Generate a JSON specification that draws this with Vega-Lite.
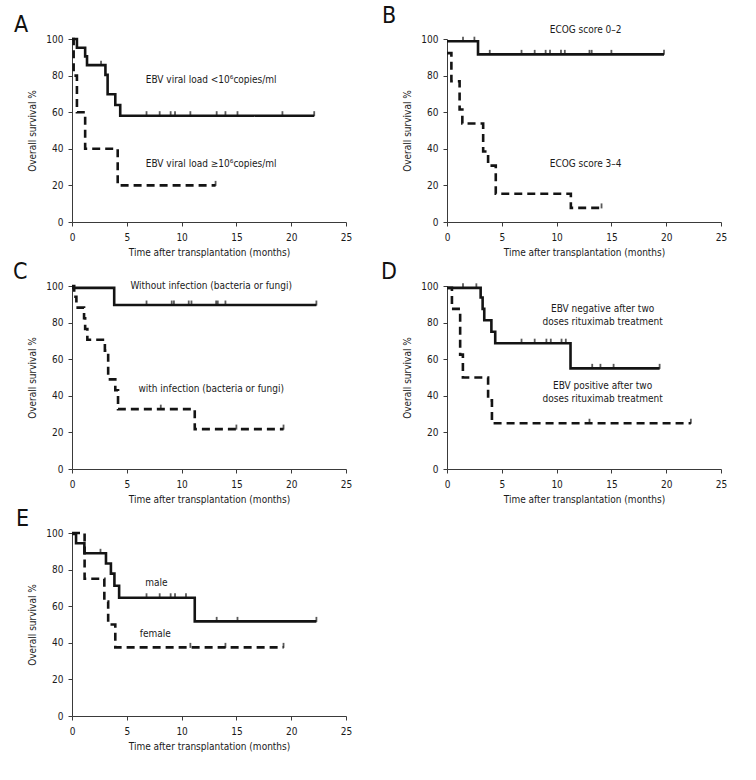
{
  "$schema": "https://vega.github.io/schema/vega-lite/v6.json",
  "padding": {"left": 13, "top": 4, "right": 5, "bottom": 5},
  "bounds": "flush",
  "columns": 2,
  "spacing": {"row": 64, "column": 101},
  "config": {
    "font": "Liberation Sans Narrow, DejaVu Sans Condensed, sans-serif",
    "view": {"stroke": null},
    "axis": {"grid": false, "domainColor": "#3a3a3a", "tickColor": "#3a3a3a", "domainWidth": 1, "tickWidth": 1, "tickSize": 4,
      "labelFont": "Liberation Sans Narrow, DejaVu Sans Condensed, sans-serif", "labelFontSize": 10, "labelColor": "#1a1a1a",
      "titleFont": "Liberation Sans Narrow, DejaVu Sans Condensed, sans-serif", "titleFontSize": 10, "titleFontWeight": "normal", "titleColor": "#1a1a1a"},
    "axisX": {"values": [0, 5, 10, 15, 20, 25], "labelPadding": 6, "titlePadding": 5, "labelFlush": false},
    "axisY": {"values": [0, 20, 40, 60, 80, 100], "labelPadding": 5, "titlePadding": 8},
    "title": {"font": "Liberation Sans Narrow, DejaVu Sans Condensed, sans-serif", "fontSize": 23, "fontWeight": "normal", "anchor": "start", "frame": "group", "color": "#111111", "offset": -3},
    "text": {"font": "Liberation Sans Narrow, DejaVu Sans Condensed, sans-serif", "fontSize": 10, "color": "#1a1a1a", "align": "center", "baseline": "middle"}
  },
  "datasets": {
    "km": [
      {"p": "A", "g": "solid", "t": 0, "s": 100}, {"p": "A", "g": "solid", "t": 0.45, "s": 95.2}, {"p": "A", "g": "solid", "t": 1.2, "s": 90.5}, {"p": "A", "g": "solid", "t": 1.37, "s": 85.7}, {"p": "A", "g": "solid", "t": 3.05, "s": 80.4}, {"p": "A", "g": "solid", "t": 3.25, "s": 69.8}, {"p": "A", "g": "solid", "t": 3.95, "s": 63.9}, {"p": "A", "g": "solid", "t": 4.4, "s": 58.1}, {"p": "A", "g": "solid", "t": 22.1, "s": 58.1},
      {"p": "A", "g": "dashed", "t": 0, "s": 100}, {"p": "A", "g": "dashed", "t": 0.15, "s": 80}, {"p": "A", "g": "dashed", "t": 0.45, "s": 60}, {"p": "A", "g": "dashed", "t": 1.2, "s": 40}, {"p": "A", "g": "dashed", "t": 4.17, "s": 20}, {"p": "A", "g": "dashed", "t": 13.1, "s": 20},
      {"p": "B", "g": "solid", "t": 0, "s": 98.8}, {"p": "B", "g": "solid", "t": 2.83, "s": 91.6}, {"p": "B", "g": "solid", "t": 19.8, "s": 91.6},
      {"p": "B", "g": "dashed", "t": 0, "s": 92.3}, {"p": "B", "g": "dashed", "t": 0.4, "s": 76.9}, {"p": "B", "g": "dashed", "t": 1.15, "s": 61.5}, {"p": "B", "g": "dashed", "t": 1.4, "s": 53.8}, {"p": "B", "g": "dashed", "t": 3.3, "s": 38.5}, {"p": "B", "g": "dashed", "t": 3.75, "s": 30.8}, {"p": "B", "g": "dashed", "t": 4.45, "s": 15.4}, {"p": "B", "g": "dashed", "t": 11.3, "s": 7.7}, {"p": "B", "g": "dashed", "t": 14.1, "s": 7.7},
      {"p": "C", "g": "solid", "t": 0, "s": 99}, {"p": "C", "g": "solid", "t": 3.85, "s": 89.6}, {"p": "C", "g": "solid", "t": 22.3, "s": 89.6},
      {"p": "C", "g": "dashed", "t": 0, "s": 100}, {"p": "C", "g": "dashed", "t": 0.2, "s": 94.1}, {"p": "C", "g": "dashed", "t": 0.4, "s": 88.2}, {"p": "C", "g": "dashed", "t": 1.1, "s": 82.4}, {"p": "C", "g": "dashed", "t": 1.2, "s": 76.5}, {"p": "C", "g": "dashed", "t": 1.4, "s": 70.6}, {"p": "C", "g": "dashed", "t": 3.0, "s": 64.7}, {"p": "C", "g": "dashed", "t": 3.3, "s": 49}, {"p": "C", "g": "dashed", "t": 3.95, "s": 43}, {"p": "C", "g": "dashed", "t": 4.2, "s": 32.7}, {"p": "C", "g": "dashed", "t": 11.2, "s": 21.8}, {"p": "C", "g": "dashed", "t": 19.3, "s": 21.8},
      {"p": "D", "g": "solid", "t": 0, "s": 99}, {"p": "D", "g": "solid", "t": 3.07, "s": 93.75}, {"p": "D", "g": "solid", "t": 3.25, "s": 87.5}, {"p": "D", "g": "solid", "t": 3.4, "s": 81.25}, {"p": "D", "g": "solid", "t": 4.05, "s": 75}, {"p": "D", "g": "solid", "t": 4.4, "s": 68.75}, {"p": "D", "g": "solid", "t": 11.27, "s": 55}, {"p": "D", "g": "solid", "t": 19.4, "s": 55},
      {"p": "D", "g": "dashed", "t": 0, "s": 99}, {"p": "D", "g": "dashed", "t": 0.45, "s": 87.5}, {"p": "D", "g": "dashed", "t": 1.2, "s": 62.5}, {"p": "D", "g": "dashed", "t": 1.45, "s": 50}, {"p": "D", "g": "dashed", "t": 3.75, "s": 37.5}, {"p": "D", "g": "dashed", "t": 4.1, "s": 25}, {"p": "D", "g": "dashed", "t": 22.25, "s": 25},
      {"p": "E", "g": "solid", "t": 0, "s": 99.5}, {"p": "E", "g": "solid", "t": 0.37, "s": 94.4}, {"p": "E", "g": "solid", "t": 1.13, "s": 88.9}, {"p": "E", "g": "solid", "t": 3.1, "s": 83.3}, {"p": "E", "g": "solid", "t": 3.55, "s": 77.8}, {"p": "E", "g": "solid", "t": 3.87, "s": 71.2}, {"p": "E", "g": "solid", "t": 4.3, "s": 64.6}, {"p": "E", "g": "solid", "t": 11.2, "s": 51.7}, {"p": "E", "g": "solid", "t": 22.3, "s": 51.7},
      {"p": "E", "g": "dashed", "t": 0, "s": 100}, {"p": "E", "g": "dashed", "t": 1.15, "s": 75}, {"p": "E", "g": "dashed", "t": 2.95, "s": 62.5}, {"p": "E", "g": "dashed", "t": 3.3, "s": 50}, {"p": "E", "g": "dashed", "t": 3.95, "s": 37.5}, {"p": "E", "g": "dashed", "t": 19.3, "s": 37.5}
    ],
    "cens": [
      {"p": "A", "t": 2.65, "s": 85.7}, {"p": "A", "t": 6.8, "s": 58.1}, {"p": "A", "t": 8.0, "s": 58.1}, {"p": "A", "t": 9.0, "s": 58.1}, {"p": "A", "t": 9.4, "s": 58.1}, {"p": "A", "t": 10.8, "s": 58.1}, {"p": "A", "t": 13.2, "s": 58.1}, {"p": "A", "t": 14.0, "s": 58.1}, {"p": "A", "t": 15.1, "s": 58.1}, {"p": "A", "t": 19.2, "s": 58.1}, {"p": "A", "t": 22.1, "s": 58.1}, {"p": "A", "t": 13.1, "s": 20},
      {"p": "B", "t": 1.46, "s": 98.8}, {"p": "B", "t": 2.5, "s": 98.8}, {"p": "B", "t": 3.9, "s": 91.6}, {"p": "B", "t": 6.8, "s": 91.6}, {"p": "B", "t": 8.0, "s": 91.6}, {"p": "B", "t": 9.0, "s": 91.6}, {"p": "B", "t": 9.4, "s": 91.6}, {"p": "B", "t": 10.4, "s": 91.6}, {"p": "B", "t": 10.75, "s": 91.6}, {"p": "B", "t": 13.0, "s": 91.6}, {"p": "B", "t": 13.2, "s": 91.6}, {"p": "B", "t": 15.0, "s": 91.6}, {"p": "B", "t": 19.8, "s": 91.6}, {"p": "B", "t": 14.1, "s": 7.7},
      {"p": "C", "t": 6.8, "s": 89.6}, {"p": "C", "t": 9.1, "s": 89.6}, {"p": "C", "t": 9.3, "s": 89.6}, {"p": "C", "t": 10.65, "s": 89.6}, {"p": "C", "t": 10.9, "s": 89.6}, {"p": "C", "t": 13.15, "s": 89.6}, {"p": "C", "t": 13.3, "s": 89.6}, {"p": "C", "t": 14.0, "s": 89.6}, {"p": "C", "t": 22.3, "s": 89.6}, {"p": "C", "t": 8.1, "s": 32.7}, {"p": "C", "t": 15.0, "s": 21.8}, {"p": "C", "t": 19.3, "s": 21.8},
      {"p": "D", "t": 1.46, "s": 99}, {"p": "D", "t": 2.68, "s": 99}, {"p": "D", "t": 6.8, "s": 68.75}, {"p": "D", "t": 8.0, "s": 68.75}, {"p": "D", "t": 9.07, "s": 68.75}, {"p": "D", "t": 9.47, "s": 68.75}, {"p": "D", "t": 10.45, "s": 68.75}, {"p": "D", "t": 10.84, "s": 68.75}, {"p": "D", "t": 13.25, "s": 55}, {"p": "D", "t": 14.0, "s": 55}, {"p": "D", "t": 15.2, "s": 55}, {"p": "D", "t": 19.4, "s": 55}, {"p": "D", "t": 13.0, "s": 25}, {"p": "D", "t": 22.25, "s": 25},
      {"p": "E", "t": 2.6, "s": 88.9}, {"p": "E", "t": 6.8, "s": 64.6}, {"p": "E", "t": 8.0, "s": 64.6}, {"p": "E", "t": 9.0, "s": 64.6}, {"p": "E", "t": 9.4, "s": 64.6}, {"p": "E", "t": 10.4, "s": 64.6}, {"p": "E", "t": 13.2, "s": 51.7}, {"p": "E", "t": 15.1, "s": 51.7}, {"p": "E", "t": 22.3, "s": 51.7}, {"p": "E", "t": 10.8, "s": 37.5}, {"p": "E", "t": 14.0, "s": 37.5}, {"p": "E", "t": 19.3, "s": 37.5}
    ],
    "labels": [
      {"p": "A", "t": 12.7, "s": 77.6, "label": "EBV viral load <10⁶copies/ml"},
      {"p": "A", "t": 12.7, "s": 31.7, "label": "EBV viral load ≥10⁶copies/ml"},
      {"p": "B", "t": 12.65, "s": 105, "label": "ECOG score 0–2"},
      {"p": "B", "t": 12.65, "s": 31.7, "label": "ECOG score 3–4"},
      {"p": "C", "t": 12.7, "s": 100, "label": "Without infection (bacteria or fungi)"},
      {"p": "C", "t": 12.7, "s": 43.7, "label": "with infection (bacteria or fungi)"},
      {"p": "D", "t": 14.2, "s": 87.4, "label": "EBV negative after two"},
      {"p": "D", "t": 14.2, "s": 80.3, "label": "doses rituximab treatment"},
      {"p": "D", "t": 14.2, "s": 45.4, "label": "EBV positive after two"},
      {"p": "D", "t": 14.2, "s": 38.3, "label": "doses rituximab treatment"},
      {"p": "E", "t": 7.7, "s": 72.5, "label": "male"},
      {"p": "E", "t": 7.6, "s": 44.6, "label": "female"}
    ]
  },
  "concat": [
    {
      "width": 274, "height": 183,
      "title": {"text": "A", "dx": -58},
      "encoding": {
        "x": {"field": "t", "type": "quantitative", "scale": {"domain": [0, 25], "nice": false}, "axis": {"title": "Time after transplantation (months)"}},
        "y": {"field": "s", "type": "quantitative", "scale": {"domain": [0, 100], "nice": false}, "axis": {"title": "Overall survival %"}}
      },
      "layer": [
        {"data": {"name": "km"}, "transform": [{"filter": "datum.p === 'A'"}],
          "mark": {"type": "line", "interpolate": "step-after", "color": "#141414", "strokeWidth": 2.6},
          "encoding": {"detail": {"field": "g"}, "strokeDash": {"field": "g", "type": "nominal", "scale": {"domain": ["solid", "dashed"], "range": [[1, 0], [8, 5]]}, "legend": null}}},
        {"data": {"name": "cens"}, "transform": [{"filter": "datum.p === 'A'"}],
          "mark": {"type": "tick", "orient": "vertical", "size": 5, "thickness": 1.8, "color": "#141414", "yOffset": -2}},
        {"data": {"name": "labels"}, "transform": [{"filter": "datum.p === 'A'"}],
          "mark": {"type": "text"}, "encoding": {"text": {"field": "label"}}}
      ]
    },
    {
      "width": 274, "height": 183,
      "title": {"text": "B", "dx": -65},
      "encoding": {
        "x": {"field": "t", "type": "quantitative", "scale": {"domain": [0, 25], "nice": false}, "axis": {"title": "Time after transplantation (months)"}},
        "y": {"field": "s", "type": "quantitative", "scale": {"domain": [0, 100], "nice": false}, "axis": {"title": "Overall survival %"}}
      },
      "layer": [
        {"data": {"name": "km"}, "transform": [{"filter": "datum.p === 'B'"}],
          "mark": {"type": "line", "interpolate": "step-after", "color": "#141414", "strokeWidth": 2.6},
          "encoding": {"detail": {"field": "g"}, "strokeDash": {"field": "g", "type": "nominal", "scale": {"domain": ["solid", "dashed"], "range": [[1, 0], [8, 5]]}, "legend": null}}},
        {"data": {"name": "cens"}, "transform": [{"filter": "datum.p === 'B'"}],
          "mark": {"type": "tick", "orient": "vertical", "size": 5, "thickness": 1.8, "color": "#141414", "yOffset": -2}},
        {"data": {"name": "labels"}, "transform": [{"filter": "datum.p === 'B'"}],
          "mark": {"type": "text"}, "encoding": {"text": {"field": "label"}}}
      ]
    },
    {
      "width": 274, "height": 183,
      "title": {"text": "C", "dx": -59},
      "encoding": {
        "x": {"field": "t", "type": "quantitative", "scale": {"domain": [0, 25], "nice": false}, "axis": {"title": "Time after transplantation (months)"}},
        "y": {"field": "s", "type": "quantitative", "scale": {"domain": [0, 100], "nice": false}, "axis": {"title": "Overall survival %"}}
      },
      "layer": [
        {"data": {"name": "km"}, "transform": [{"filter": "datum.p === 'C'"}],
          "mark": {"type": "line", "interpolate": "step-after", "color": "#141414", "strokeWidth": 2.6},
          "encoding": {"detail": {"field": "g"}, "strokeDash": {"field": "g", "type": "nominal", "scale": {"domain": ["solid", "dashed"], "range": [[1, 0], [8, 5]]}, "legend": null}}},
        {"data": {"name": "cens"}, "transform": [{"filter": "datum.p === 'C'"}],
          "mark": {"type": "tick", "orient": "vertical", "size": 5, "thickness": 1.8, "color": "#141414", "yOffset": -2}},
        {"data": {"name": "labels"}, "transform": [{"filter": "datum.p === 'C'"}],
          "mark": {"type": "text"}, "encoding": {"text": {"field": "label"}}}
      ]
    },
    {
      "width": 274, "height": 183,
      "title": {"text": "D", "dx": -66},
      "encoding": {
        "x": {"field": "t", "type": "quantitative", "scale": {"domain": [0, 25], "nice": false}, "axis": {"title": "Time after transplantation (months)"}},
        "y": {"field": "s", "type": "quantitative", "scale": {"domain": [0, 100], "nice": false}, "axis": {"title": "Overall survival %"}}
      },
      "layer": [
        {"data": {"name": "km"}, "transform": [{"filter": "datum.p === 'D'"}],
          "mark": {"type": "line", "interpolate": "step-after", "color": "#141414", "strokeWidth": 2.6},
          "encoding": {"detail": {"field": "g"}, "strokeDash": {"field": "g", "type": "nominal", "scale": {"domain": ["solid", "dashed"], "range": [[1, 0], [8, 5]]}, "legend": null}}},
        {"data": {"name": "cens"}, "transform": [{"filter": "datum.p === 'D'"}],
          "mark": {"type": "tick", "orient": "vertical", "size": 5, "thickness": 1.8, "color": "#141414", "yOffset": -2}},
        {"data": {"name": "labels"}, "transform": [{"filter": "datum.p === 'D'"}],
          "mark": {"type": "text"}, "encoding": {"text": {"field": "label"}}}
      ]
    },
    {
      "width": 274, "height": 183,
      "title": {"text": "E", "dx": -56},
      "encoding": {
        "x": {"field": "t", "type": "quantitative", "scale": {"domain": [0, 25], "nice": false}, "axis": {"title": "Time after transplantation (months)"}},
        "y": {"field": "s", "type": "quantitative", "scale": {"domain": [0, 100], "nice": false}, "axis": {"title": "Overall survival %"}}
      },
      "layer": [
        {"data": {"name": "km"}, "transform": [{"filter": "datum.p === 'E'"}],
          "mark": {"type": "line", "interpolate": "step-after", "color": "#141414", "strokeWidth": 2.6},
          "encoding": {"detail": {"field": "g"}, "strokeDash": {"field": "g", "type": "nominal", "scale": {"domain": ["solid", "dashed"], "range": [[1, 0], [8, 5]]}, "legend": null}}},
        {"data": {"name": "cens"}, "transform": [{"filter": "datum.p === 'E'"}],
          "mark": {"type": "tick", "orient": "vertical", "size": 5, "thickness": 1.8, "color": "#141414", "yOffset": -2}},
        {"data": {"name": "labels"}, "transform": [{"filter": "datum.p === 'E'"}],
          "mark": {"type": "text"}, "encoding": {"text": {"field": "label"}}}
      ]
    }
  ]
}
